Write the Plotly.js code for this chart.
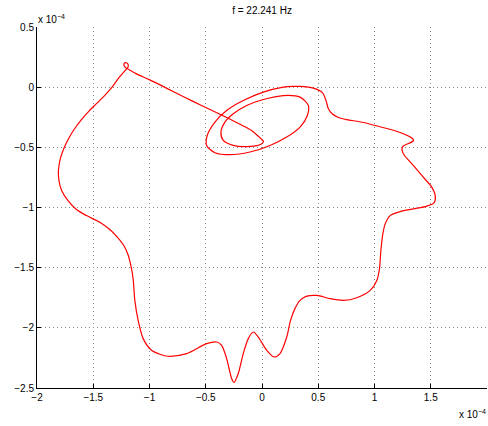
<!DOCTYPE html>
<html>
<head>
<meta charset="utf-8">
<script src="https://cdn.plot.ly/plotly-3.0.1.min.js"></script>
<style>html,body{margin:0;padding:0;background:#fff;}#chart{width:488px;height:426px;}</style>
</head>
<body>
<div id="chart"></div>
<script>
// values in units of 1e-4
const xVals = [-1.2194,-1.2728,-1.3306,-1.3974,-1.4686,-1.5398,-1.6066,-1.6689,-1.7223,-1.7624,-1.7935,-1.8096,-1.8042,-1.7802,-1.7241,-1.6493,-1.5603,-1.4419,-1.3529,-1.2906,-1.2283,-1.1883,-1.1660,-1.1455,-1.1304,-1.1010,-1.0565,-0.9818,-0.9079,-0.8340,-0.6702,-0.4922,-0.4032,-0.3587,-0.3142,-0.2697,-0.2492,-0.2109,-0.1664,-0.1219,-0.0774,-0.0329,0.0418,0.1068,0.1602,0.2198,0.2537,0.2937,0.3382,0.3916,0.4869,0.6053,0.7236,0.8429,0.9613,1.0209,1.0441,1.0565,1.0743,1.0948,1.1393,1.2283,1.3467,1.4660,1.5309,1.5398,1.5105,1.4357,1.3467,1.2577,1.2434,1.2577,1.3022,1.3467,1.3324,1.2283,1.0503,0.9016,0.7388,0.6791,0.6231,0.5901,0.5697,0.5385,0.4566,0.3382,0.2759,0.1896,0.0116,-0.1664,-0.3142,-0.4183,-0.4869,-0.4922,-0.4183,-0.2848,-0.1068,0.0712,0.2198,0.3382,0.4032,0.4121,0.3382,0.1896,0.0116,-0.1362,-0.2555,-0.3293,-0.3649,-0.3445,-0.2555,-0.1068,-0.0089,0.0134,0.0000,-0.0890,-0.1958,-0.3738,-0.6409,-0.9969,-1.1153,-1.1838,-1.2150,-1.2283,-1.2150,-1.1927,-1.1900,-1.2194];
const yVals = [0.1352,0.0771,0.0025,-0.0680,-0.1343,-0.2007,-0.2712,-0.3499,-0.4328,-0.5116,-0.5987,-0.6940,-0.7811,-0.8599,-0.9428,-1.0174,-1.0672,-1.1227,-1.1833,-1.2413,-1.3159,-1.3988,-1.4818,-1.5920,-1.7720,-1.9378,-2.0896,-2.1866,-2.2197,-2.2363,-2.2139,-2.1310,-2.1178,-2.1451,-2.2554,-2.4212,-2.4544,-2.3798,-2.2139,-2.0896,-2.0348,-2.0763,-2.1866,-2.2421,-2.2139,-2.0763,-1.9378,-1.8383,-1.7720,-1.7388,-1.7305,-1.7579,-1.7720,-1.7496,-1.6891,-1.6062,-1.5091,-1.3574,-1.2189,-1.1360,-1.0672,-1.0340,-1.0116,-0.9884,-0.9594,-0.9013,-0.8325,-0.7496,-0.6526,-0.5556,-0.5141,-0.4867,-0.4677,-0.4453,-0.4229,-0.3765,-0.3292,-0.2935,-0.2670,-0.2521,-0.2214,-0.1799,-0.1136,-0.0473,-0.0083,0.0066,0.0066,0.0000,-0.0415,-0.1111,-0.1940,-0.2902,-0.4013,-0.4843,-0.5448,-0.5614,-0.5390,-0.4843,-0.4146,-0.3317,-0.2355,-0.1526,-0.0829,-0.0697,-0.1028,-0.1526,-0.2214,-0.2902,-0.3731,-0.4428,-0.4843,-0.4925,-0.4743,-0.4494,-0.4370,-0.3624,-0.3085,-0.2255,-0.1053,0.0605,0.1103,0.1476,0.1642,0.1891,0.2032,0.1932,0.1683,0.1352];
const xTicks = [-2,-1.5,-1,-0.5,0,0.5,1,1.5,2];
const yTicks = [-2.5,-2,-1.5,-1,-0.5,0,0.5];
const titleText = 'f = 22.241 Hz';
const expText = 'x 10<sup>\u22124</sup>';

const font = {family: 'Liberation Sans, Arial, sans-serif', size: 10, color: '#000'};
const axisCommon = {
  showline: true, linecolor: '#000', linewidth: 1, mirror: false,
  ticks: 'inside', ticklen: 4, tickcolor: '#000', tickwidth: 1,
  showgrid: true, gridcolor: '#8a8a8a', griddash: '1px,3px', gridwidth: 1,
  zeroline: false, tickfont: font, tickmode: 'array'
};
Plotly.newPlot('chart', [{
  x: xVals, y: yVals, type: 'scatter', mode: 'lines',
  line: {color: '#ff0000', width: 1.2, shape: 'spline', smoothing: 0.8},
  hoverinfo: 'none'
}], {
  width: 488, height: 426,
  margin: {l: 37, r: 1, t: 27, b: 38, pad: 0},
  paper_bgcolor: '#fff', plot_bgcolor: '#fff',
  showlegend: false,
  title: {text: titleText, font: {family: font.family, size: 10, color: '#000'}, x: 0.537, xanchor: 'center', y: 0.975, yanchor: 'middle'},
  xaxis: Object.assign({}, axisCommon, {range: [-2, 2], tickvals: xTicks, ticktext: xTicks.map(v => v < 0 ? '\u2212' + Math.abs(v) : String(v))}),
  yaxis: Object.assign({}, axisCommon, {range: [-2.5, 0.5], tickvals: yTicks, ticktext: yTicks.map(v => v < 0 ? '\u2212' + Math.abs(v) : String(v))}),
  annotations: [
    {text: expText, xref: 'paper', yref: 'paper', x: 0, y: 1, xanchor: 'left', yanchor: 'bottom', showarrow: false, font: font, xshift: -1, yshift: 0},
    {text: expText, xref: 'paper', yref: 'paper', x: 1, y: 0, xanchor: 'right', yanchor: 'top', showarrow: false, font: font, xshift: 1, yshift: -18}
  ]
}, {staticPlot: true});
</script>
</body>
</html>
